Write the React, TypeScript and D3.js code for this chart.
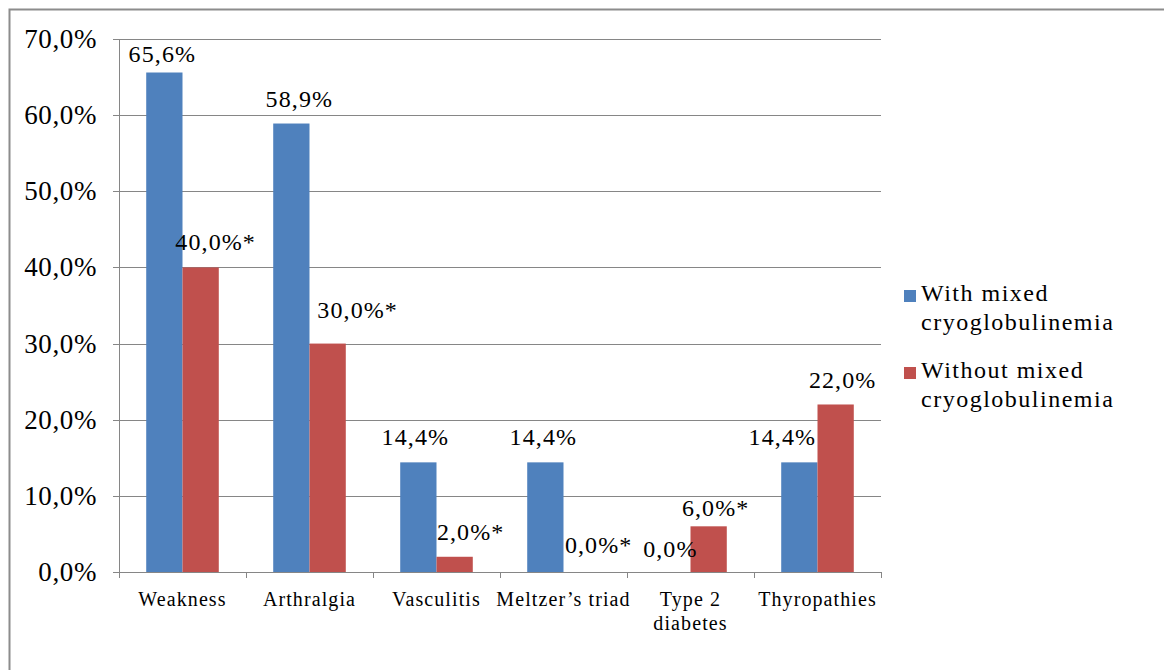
import React from "react";
import * as d3 from "d3";

const categories: string[][] = [
  ["Weakness"],
  ["Arthralgia"],
  ["Vasculitis"],
  ["Meltzer’s triad"],
  ["Type 2", "diabetes"],
  ["Thyropathies"],
];
const seriesNames = ["With mixed cryoglobulinemia", "Without mixed cryoglobulinemia"];
const legendLines = [
  ["With mixed", "cryoglobulinemia"],
  ["Without mixed", "cryoglobulinemia"],
];
const withMixed = [65.6, 58.9, 14.4, 14.4, 0.0, 14.4];
const withoutMixed = [40.0, 30.0, 2.0, 0.0, 6.0, 22.0];
const withLabels = ["65,6%", "58,9%", "14,4%", "14,4%", "0,0%", "14,4%"];
const withoutLabels = ["40,0%*", "30,0%*", "2,0%*", "0,0%*", "6,0%*", "22,0%"];
const yTicks = [0, 10, 20, 30, 40, 50, 60, 70];
const colors = ["#4F81BD", "#C0504D"];

// manual label nudges (px) as placed in the original chart
const withOffsets = [[-2, -11], [8, -17], [-3, -17], [-2, -17], [-2, -15], [-17, -17]];
const withoutOffsets = [[15, -17], [30, -26], [16, -17], [17, -19], [7, -10], [7, -16]];

const W = 1164;
const H = 670;
const left = 119;
const right = 881;
const top = 39;
const bottom = 572;

export default function App() {
  const x = d3.scaleBand<number>().domain(d3.range(categories.length)).range([left, right]);
  const y = d3.scaleLinear().domain([0, 70]).range([bottom, top]);
  const bw = x.bandwidth() / 3.5;
  const fmt = (v: number) => d3.format(".1f")(v).replace(".", ",") + "%";
  const font = "'Liberation Serif', 'Times New Roman', serif";
  const series = [withMixed, withoutMixed];
  const labels = [withLabels, withoutLabels];
  const offsets = [withOffsets, withoutOffsets];

  return (
    <svg width={W} height={H} style={{ position: "absolute", left: 0, top: 0, background: "#fff" }} fontFamily={font}>
      <rect x={0} y={0} width={W} height={H} fill="#fff" />
      <rect x={9.5} y={9.5} width={1300} height={1000} fill="none" stroke="#8c8c8c" strokeWidth={2} />
      {yTicks.map((t) => (
        <g key={t}>
          {t > 0 && <line x1={left} x2={right} y1={Math.round(y(t)) + 0.5} y2={Math.round(y(t)) + 0.5} stroke="#868686" strokeWidth={1} />}
          <line x1={left - 6} x2={left} y1={Math.round(y(t)) + 0.5} y2={Math.round(y(t)) + 0.5} stroke="#868686" />
          <text x={97} y={y(t) + 9} textAnchor="end" fontSize={27} letterSpacing={0.6} fill="#000">
            {fmt(t)}
          </text>
        </g>
      ))}
      {series.map((vals, s) =>
        vals.map((v, i) => {
          const bx = (x(i) as number) + x.bandwidth() / 2 - bw + s * bw;
          return <rect key={`${s}-${i}`} x={bx} y={y(v)} width={bw} height={y(0) - y(v)} fill={colors[s]} />;
        })
      )}
      <line x1={left + 0.5} x2={left + 0.5} y1={top} y2={bottom} stroke="#868686" />
      <line x1={left} x2={right} y1={bottom + 0.5} y2={bottom + 0.5} stroke="#868686" />
      {d3.range(categories.length + 1).map((i) => {
        const tx = Math.round(left + i * x.step()) + 0.5;
        return <line key={i} x1={tx} x2={tx} y1={bottom} y2={bottom + 6} stroke="#868686" />;
      })}
      {categories.map((lines, i) =>
        lines.map((ln, j) => (
          <text key={`${i}-${j}`} x={(x(i) as number) + x.bandwidth() / 2} y={606 + j * 24} textAnchor="middle" fontSize={20} letterSpacing={1.1} fill="#000">
            {ln}
          </text>
        ))
      )}
      {series.map((vals, s) =>
        vals.map((v, i) => {
          const cx = (x(i) as number) + x.bandwidth() / 2 - bw / 2 + s * bw;
          const [dx, dy] = offsets[s][i];
          return (
            <text key={`l${s}-${i}`} x={cx + dx} y={y(v) + dy} textAnchor="middle" fontSize={24} letterSpacing={1.1} fill="#000">
              {labels[s][i]}
            </text>
          );
        })
      )}
      {seriesNames.map((name, s) => (
        <g key={name}>
          <rect x={904} y={290 + s * 77} width={12} height={12} fill={colors[s]} />
          {legendLines[s].map((ln, j) => (
            <text key={j} x={921} y={301 + s * 77 + j * 29} fontSize={24} letterSpacing={1.5} fill="#000">
              {ln}
            </text>
          ))}
        </g>
      ))}
    </svg>
  );
}
